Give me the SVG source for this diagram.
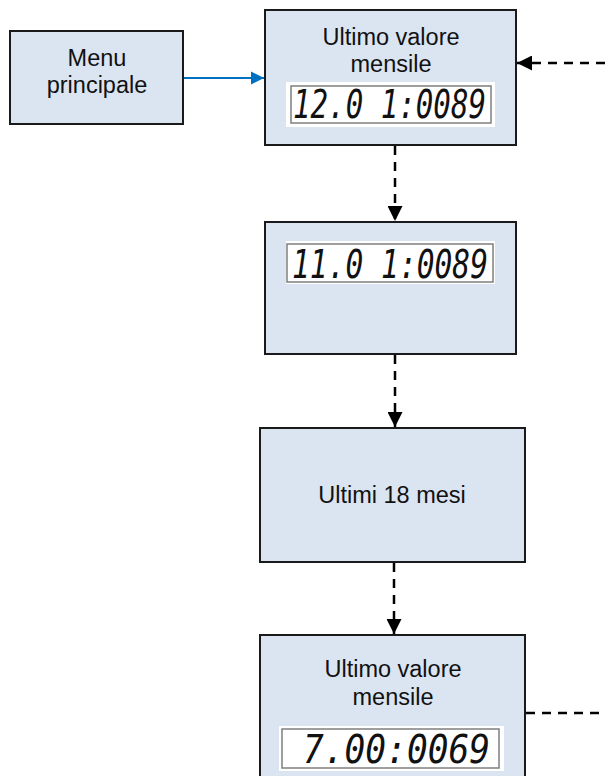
<svg xmlns="http://www.w3.org/2000/svg" width="605" height="776" viewBox="0 0 605 776">
<style>
.box{fill:#DBE5F1;stroke:#1a1a1a;stroke-width:2}
.lbl{font-family:"Liberation Sans",Arial,sans-serif;font-size:23.5px;fill:#111;text-anchor:middle}
.lcd{fill:#fff}
.lcdb{fill:none;stroke:#7f7f7f;stroke-width:1.5}
.dig{font-family:"DejaVu Sans Mono","Liberation Mono",monospace;font-style:oblique;font-size:39px;fill:#111}
.dash{fill:none;stroke:#000;stroke-width:2.5;stroke-dasharray:9 7}
</style>
<defs>
<marker id="ab" viewBox="0 0 10 10" refX="10" refY="5" markerWidth="6" markerHeight="6" markerUnits="strokeWidth" orient="auto"><path d="M0,0L10,5L0,10z" fill="#000"/></marker>
<marker id="abl" viewBox="0 0 10 10" refX="10" refY="5" markerWidth="6" markerHeight="6" markerUnits="strokeWidth" orient="auto"><path d="M0,0L10,5L0,10z" fill="#0070C0"/></marker>
</defs>
<rect width="605" height="776" fill="#fff"/>
<g id="connectors">
<path d="M184,78H264" stroke="#0070C0" stroke-width="2.2" fill="none" marker-end="url(#abl)"/>
<path class="dash" d="M605,63H517" marker-end="url(#ab)"/>
<path class="dash" d="M395,146V221" marker-end="url(#ab)"/>
<path class="dash" d="M395,355V427" marker-end="url(#ab)"/>
<path class="dash" d="M394,563V634" marker-end="url(#ab)"/>
<path class="dash" d="M526,713H605"/>
</g>
<g id="menu">
<rect class="box" x="10" y="31" width="173" height="93"/>
<text class="lbl" x="97" y="66">Menu</text>
<text class="lbl" x="97" y="93">principale</text>
</g>
<g id="top">
<rect class="box" x="265" y="10" width="251" height="135"/>
<text class="lbl" x="391" y="45">Ultimo valore</text>
<text class="lbl" x="391" y="72">mensile</text>
<rect class="lcd" x="286" y="82" width="209" height="45"/>
<rect class="lcdb" x="291" y="86" width="200" height="37"/>
<text class="dig" x="293" y="118" textLength="193" lengthAdjust="spacingAndGlyphs">12.0 1:0089</text>
</g>
<g id="second">
<rect class="box" x="265" y="222" width="251" height="132"/>
<rect class="lcd" x="286" y="241" width="209" height="43"/>
<rect class="lcdb" x="287" y="244" width="206" height="38"/>
<text class="dig" x="292" y="278" textLength="196" lengthAdjust="spacingAndGlyphs">11.0 1:0089</text>
</g>
<g id="third">
<rect class="box" x="260" y="428" width="265" height="134"/>
<text class="lbl" x="392" y="503">Ultimi 18 mesi</text>
</g>
<g id="fourth">
<rect class="box" x="260" y="635" width="265" height="150"/>
<text class="lbl" x="393" y="677">Ultimo valore</text>
<text class="lbl" x="393" y="705">mensile</text>
<rect class="lcd" x="279" y="726" width="225" height="45"/>
<rect class="lcdb" x="282" y="729" width="217" height="39"/>
<text class="dig" x="303" y="763" textLength="187" lengthAdjust="spacingAndGlyphs">7.00:0069</text>
</g>
</svg>
